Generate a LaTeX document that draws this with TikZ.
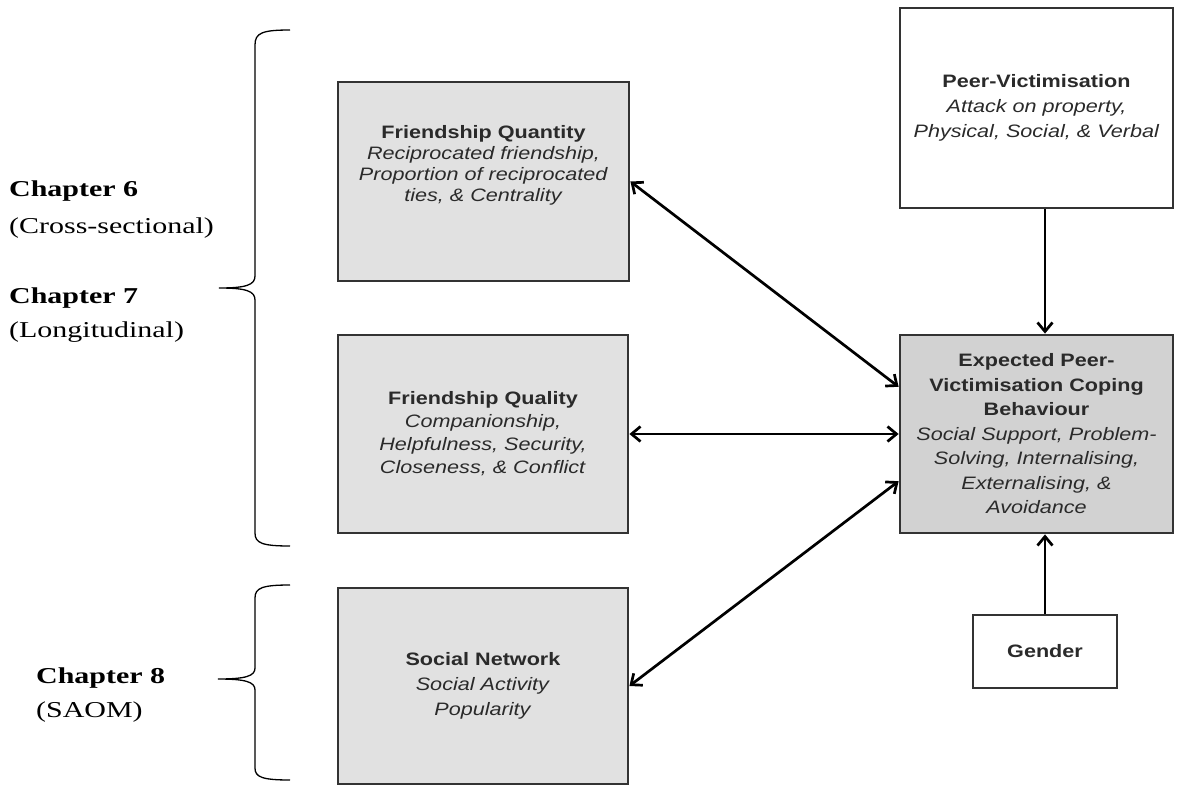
\documentclass[tikz,border=0pt]{standalone}
\usepackage{fontspec}
\setsansfont[FakeStretch=1.2]{Liberation Sans}
\newfontfamily\chapfont[FakeStretch=1.32]{Liberation Serif}
\usetikzlibrary{arrows.meta,calc}
\definecolor{boxline}{HTML}{333333}
\definecolor{boxtext}{HTML}{2A2A2A}
\definecolor{lightfill}{HTML}{E1E1E1}
\definecolor{darkfill}{HTML}{D2D2D2}
\begin{document}
\begin{tikzpicture}[x=1pt,y=-1pt,
  box/.style={draw=boxline,line width=2.8pt,rectangle,inner sep=0pt,align=center,
    text=boxtext,font=\sffamily\fontsize{18}{23}\selectfont},
  graybox/.style={box,fill=lightfill},
  whitebox/.style={box,fill=white},
  link/.style={line width=2.7pt,{Straight Barb[length=9pt,width=15pt]}-{Straight Barb[length=9pt,width=15pt]}},
  onelink/.style={line width=2.7pt,-{Straight Barb[length=9pt,width=15pt]}},
  brace/.style={line width=1.3pt},
  chap/.style={anchor=west,inner sep=0pt,font=\chapfont\fontsize{22.7}{28}\selectfont\bfseries},
  sub/.style={anchor=west,inner sep=0pt,font=\chapfont\fontsize{22.7}{28}\selectfont}]
\useasboundingbox (0,0) rectangle (1184,787);

% boxes on the left
\node[graybox,minimum width=291pt,minimum height=199pt] (fqn) at (483.5,181.5) {};
\node[box,draw=none,font=\sffamily\fontsize{18}{21}\selectfont] (fqnt) at (483.5,165)
  {\textbf{Friendship Quantity}\\ \textit{Reciprocated friendship,}\\ \textit{Proportion of reciprocated}\\ \textit{ties, \& Centrality}};
\node[graybox,minimum width=290pt,minimum height=198pt] (fql) at (483,434)
  {\textbf{Friendship Quality}\\ \textit{Companionship,}\\ \textit{Helpfulness, Security,}\\ \textit{Closeness, \& Conflict}};
\node[graybox,minimum width=290pt,minimum height=196pt,font=\sffamily\fontsize{18}{25}\selectfont] (sn) at (483,686)
  {\textbf{Social Network}\\ \textit{Social Activity}\\ \textit{Popularity}};

% boxes on the right
\node[whitebox,minimum width=273pt,minimum height=200pt,font=\sffamily\fontsize{18}{25}\selectfont] (pv) at (1036.5,108)
  {\textbf{Peer-Victimisation}\\ \textit{Attack on property,}\\ \textit{Physical, Social, \& Verbal}};
\node[box,fill=darkfill,minimum width=273pt,minimum height=198pt,font=\sffamily\fontsize{18}{24.5}\selectfont] (ex) at (1036.5,434)
  {\textbf{Expected Peer-}\\ \textbf{Victimisation Coping}\\ \textbf{Behaviour}\\ \textit{Social Support, Problem-}\\ \textit{Solving, Internalising,}\\ \textit{Externalising, \&}\\ \textit{Avoidance}};
\node[whitebox,minimum width=144pt,minimum height=73pt] (gd) at (1045,651.5) {\textbf{Gender}};

% connectors
\coordinate (exa) at ($(ex.north west)!0.265!(ex.south west)$);
\coordinate (exc) at ($(ex.north west)!0.735!(ex.south west)$);
\draw[link] (fqn.east) -- (exa);
\draw[link] (fql.east) -- (ex.west);
\draw[link] (sn.east) -- (exc);
\draw[onelink] (pv.south -| gd.north) -- (ex.north -| gd.north);
\draw[onelink] (gd.north) -- (ex.south -| gd.north);

% curly braces
\draw[brace] (290,30) .. controls (262,30) and (255,33) .. (255,45) -- (255,276)
  .. controls (255,285) and (246,288) .. (219,288)
  .. controls (246,288) and (255,291) .. (255,300) -- (255,533)
  .. controls (255,543) and (262,546) .. (290,546);
\draw[brace] (290,585) .. controls (262,585) and (255,588) .. (255,598) -- (255,668)
  .. controls (255,676) and (246,679) .. (218,679)
  .. controls (246,679) and (255,682) .. (255,690) -- (255,768)
  .. controls (255,777) and (262,780) .. (290,780);

% chapter labels
\node[chap] (c6) at (9,191) {Chapter 6};
\node[sub] (c6s) at (9,228) {(Cross-sectional)};
\node[chap] (c7) at (9,298) {Chapter 7};
\node[sub] (c7s) at (9,332) {(Longitudinal)};
\node[chap] (c8) at (36,678) {Chapter 8};
\node[sub] (c8s) at (36,712) {(SAOM)};
\end{tikzpicture}
\end{document}
